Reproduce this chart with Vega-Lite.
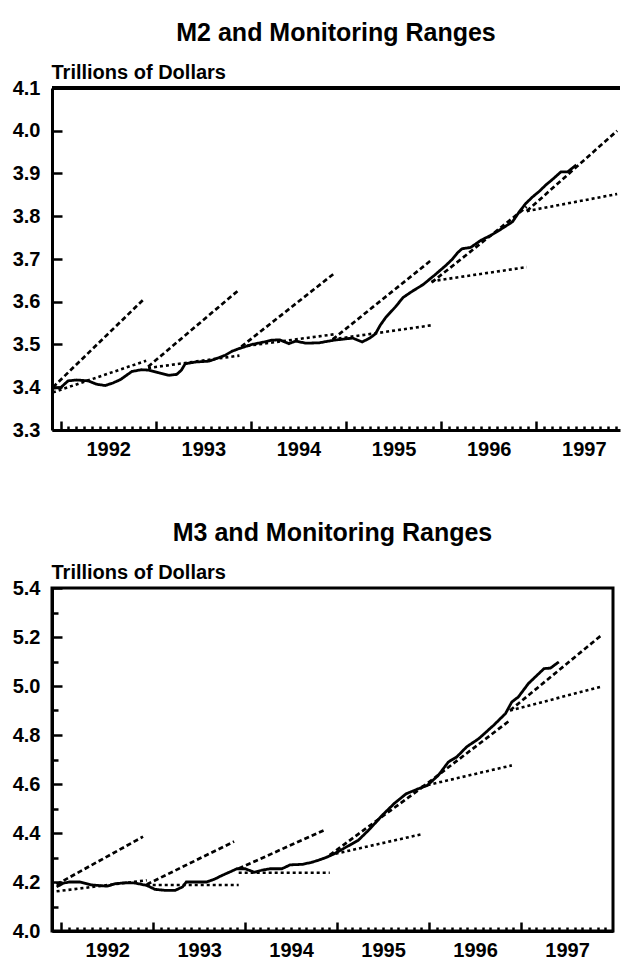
{
  "$schema": "https://vega.github.io/schema/vega-lite/v6.json",
  "padding": {"top": 21, "left": 10, "right": 0, "bottom": 0},
  "spacing": 60,
  "config": {
    "view": {"stroke": null},
    "font": "Liberation Sans",
    "title": {"font": "Liberation Sans", "fontSize": 25, "fontWeight": "bold", "color": "black", "anchor": "middle", "offset": 16},
    "axis": {"grid": false, "domainColor": "black", "domainWidth": 3, "tickColor": "black", "tickWidth": 2.5, "labelFont": "Liberation Sans", "labelFontSize": 20, "labelFontWeight": "bold", "labelColor": "black", "labelOverlap": false, "labelFlush": false, "labelBound": false, "titleFont": "Liberation Sans", "titleFontSize": 20, "titleFontWeight": "bold", "titleColor": "black"}
  },
  "datasets": {
    "series": [
      {"panel": "M2", "series": "actual", "kind": "actual", "t": 1991.92, "v": 3.398},
      {"panel": "M2", "series": "actual", "kind": "actual", "t": 1992.0, "v": 3.399},
      {"panel": "M2", "series": "actual", "kind": "actual", "t": 1992.08, "v": 3.415},
      {"panel": "M2", "series": "actual", "kind": "actual", "t": 1992.17, "v": 3.417},
      {"panel": "M2", "series": "actual", "kind": "actual", "t": 1992.29, "v": 3.415},
      {"panel": "M2", "series": "actual", "kind": "actual", "t": 1992.38, "v": 3.407},
      {"panel": "M2", "series": "actual", "kind": "actual", "t": 1992.47, "v": 3.404},
      {"panel": "M2", "series": "actual", "kind": "actual", "t": 1992.55, "v": 3.41},
      {"panel": "M2", "series": "actual", "kind": "actual", "t": 1992.63, "v": 3.418},
      {"panel": "M2", "series": "actual", "kind": "actual", "t": 1992.75, "v": 3.437},
      {"panel": "M2", "series": "actual", "kind": "actual", "t": 1992.85, "v": 3.441},
      {"panel": "M2", "series": "actual", "kind": "actual", "t": 1992.93, "v": 3.44},
      {"panel": "M2", "series": "actual", "kind": "actual", "t": 1993.03, "v": 3.434},
      {"panel": "M2", "series": "actual", "kind": "actual", "t": 1993.14, "v": 3.428},
      {"panel": "M2", "series": "actual", "kind": "actual", "t": 1993.22, "v": 3.43},
      {"panel": "M2", "series": "actual", "kind": "actual", "t": 1993.27, "v": 3.44},
      {"panel": "M2", "series": "actual", "kind": "actual", "t": 1993.31, "v": 3.455},
      {"panel": "M2", "series": "actual", "kind": "actual", "t": 1993.42, "v": 3.459},
      {"panel": "M2", "series": "actual", "kind": "actual", "t": 1993.56, "v": 3.461},
      {"panel": "M2", "series": "actual", "kind": "actual", "t": 1993.65, "v": 3.468},
      {"panel": "M2", "series": "actual", "kind": "actual", "t": 1993.73, "v": 3.475},
      {"panel": "M2", "series": "actual", "kind": "actual", "t": 1993.8, "v": 3.484},
      {"panel": "M2", "series": "actual", "kind": "actual", "t": 1993.87, "v": 3.49},
      {"panel": "M2", "series": "actual", "kind": "actual", "t": 1994.01, "v": 3.5},
      {"panel": "M2", "series": "actual", "kind": "actual", "t": 1994.12, "v": 3.505},
      {"panel": "M2", "series": "actual", "kind": "actual", "t": 1994.22, "v": 3.51},
      {"panel": "M2", "series": "actual", "kind": "actual", "t": 1994.3, "v": 3.511},
      {"panel": "M2", "series": "actual", "kind": "actual", "t": 1994.4, "v": 3.502},
      {"panel": "M2", "series": "actual", "kind": "actual", "t": 1994.47, "v": 3.508},
      {"panel": "M2", "series": "actual", "kind": "actual", "t": 1994.58, "v": 3.503},
      {"panel": "M2", "series": "actual", "kind": "actual", "t": 1994.72, "v": 3.504},
      {"panel": "M2", "series": "actual", "kind": "actual", "t": 1994.87, "v": 3.51},
      {"panel": "M2", "series": "actual", "kind": "actual", "t": 1995.07, "v": 3.515},
      {"panel": "M2", "series": "actual", "kind": "actual", "t": 1995.17, "v": 3.506},
      {"panel": "M2", "series": "actual", "kind": "actual", "t": 1995.25, "v": 3.515},
      {"panel": "M2", "series": "actual", "kind": "actual", "t": 1995.31, "v": 3.525},
      {"panel": "M2", "series": "actual", "kind": "actual", "t": 1995.36, "v": 3.545},
      {"panel": "M2", "series": "actual", "kind": "actual", "t": 1995.42, "v": 3.564},
      {"panel": "M2", "series": "actual", "kind": "actual", "t": 1995.52, "v": 3.588},
      {"panel": "M2", "series": "actual", "kind": "actual", "t": 1995.6, "v": 3.61},
      {"panel": "M2", "series": "actual", "kind": "actual", "t": 1995.7, "v": 3.625},
      {"panel": "M2", "series": "actual", "kind": "actual", "t": 1995.81, "v": 3.64},
      {"panel": "M2", "series": "actual", "kind": "actual", "t": 1995.93, "v": 3.662},
      {"panel": "M2", "series": "actual", "kind": "actual", "t": 1996.05, "v": 3.685},
      {"panel": "M2", "series": "actual", "kind": "actual", "t": 1996.12, "v": 3.7},
      {"panel": "M2", "series": "actual", "kind": "actual", "t": 1996.17, "v": 3.714},
      {"panel": "M2", "series": "actual", "kind": "actual", "t": 1996.22, "v": 3.724},
      {"panel": "M2", "series": "actual", "kind": "actual", "t": 1996.31, "v": 3.727},
      {"panel": "M2", "series": "actual", "kind": "actual", "t": 1996.42, "v": 3.744},
      {"panel": "M2", "series": "actual", "kind": "actual", "t": 1996.52, "v": 3.755},
      {"panel": "M2", "series": "actual", "kind": "actual", "t": 1996.61, "v": 3.767},
      {"panel": "M2", "series": "actual", "kind": "actual", "t": 1996.75, "v": 3.787},
      {"panel": "M2", "series": "actual", "kind": "actual", "t": 1996.82, "v": 3.81},
      {"panel": "M2", "series": "actual", "kind": "actual", "t": 1996.89, "v": 3.83},
      {"panel": "M2", "series": "actual", "kind": "actual", "t": 1996.96, "v": 3.845},
      {"panel": "M2", "series": "actual", "kind": "actual", "t": 1997.03, "v": 3.858},
      {"panel": "M2", "series": "actual", "kind": "actual", "t": 1997.1, "v": 3.873},
      {"panel": "M2", "series": "actual", "kind": "actual", "t": 1997.18, "v": 3.888},
      {"panel": "M2", "series": "actual", "kind": "actual", "t": 1997.26, "v": 3.904},
      {"panel": "M2", "series": "actual", "kind": "actual", "t": 1997.33, "v": 3.904},
      {"panel": "M2", "series": "actual", "kind": "actual", "t": 1997.42, "v": 3.92},
      {"panel": "M2", "series": "u1992", "kind": "upper", "t": 1991.92, "v": 3.4},
      {"panel": "M2", "series": "u1992", "kind": "upper", "t": 1992.88, "v": 3.607},
      {"panel": "M2", "series": "l1992", "kind": "lower", "t": 1991.92, "v": 3.388},
      {"panel": "M2", "series": "l1992", "kind": "lower", "t": 1992.9, "v": 3.462},
      {"panel": "M2", "series": "u1993", "kind": "upper", "t": 1992.92, "v": 3.448},
      {"panel": "M2", "series": "u1993", "kind": "upper", "t": 1993.86, "v": 3.625},
      {"panel": "M2", "series": "l1993", "kind": "lower", "t": 1992.92, "v": 3.445},
      {"panel": "M2", "series": "l1993", "kind": "lower", "t": 1993.88, "v": 3.474},
      {"panel": "M2", "series": "u1994", "kind": "upper", "t": 1993.9, "v": 3.495},
      {"panel": "M2", "series": "u1994", "kind": "upper", "t": 1994.88, "v": 3.667},
      {"panel": "M2", "series": "l1994", "kind": "lower", "t": 1993.9, "v": 3.495},
      {"panel": "M2", "series": "l1994", "kind": "lower", "t": 1994.88, "v": 3.524},
      {"panel": "M2", "series": "u1995", "kind": "upper", "t": 1994.86, "v": 3.512},
      {"panel": "M2", "series": "u1995", "kind": "upper", "t": 1995.9, "v": 3.698},
      {"panel": "M2", "series": "l1995", "kind": "lower", "t": 1994.86, "v": 3.512},
      {"panel": "M2", "series": "l1995", "kind": "lower", "t": 1995.9, "v": 3.545},
      {"panel": "M2", "series": "u1996", "kind": "upper", "t": 1995.9, "v": 3.645},
      {"panel": "M2", "series": "u1996", "kind": "upper", "t": 1996.9, "v": 3.822},
      {"panel": "M2", "series": "l1996", "kind": "lower", "t": 1995.9, "v": 3.648},
      {"panel": "M2", "series": "l1996", "kind": "lower", "t": 1996.9, "v": 3.681},
      {"panel": "M2", "series": "u1997", "kind": "upper", "t": 1996.9, "v": 3.812},
      {"panel": "M2", "series": "u1997", "kind": "upper", "t": 1997.85, "v": 4.0},
      {"panel": "M2", "series": "l1997", "kind": "lower", "t": 1996.9, "v": 3.812},
      {"panel": "M2", "series": "l1997", "kind": "lower", "t": 1997.85, "v": 3.852},
      {"panel": "M3", "series": "actual", "kind": "actual", "t": 1991.95, "v": 4.18},
      {"panel": "M3", "series": "actual", "kind": "actual", "t": 1992.02, "v": 4.195},
      {"panel": "M3", "series": "actual", "kind": "actual", "t": 1992.09, "v": 4.2},
      {"panel": "M3", "series": "actual", "kind": "actual", "t": 1992.2, "v": 4.2},
      {"panel": "M3", "series": "actual", "kind": "actual", "t": 1992.33, "v": 4.188},
      {"panel": "M3", "series": "actual", "kind": "actual", "t": 1992.5, "v": 4.183},
      {"panel": "M3", "series": "actual", "kind": "actual", "t": 1992.59, "v": 4.193},
      {"panel": "M3", "series": "actual", "kind": "actual", "t": 1992.7, "v": 4.197},
      {"panel": "M3", "series": "actual", "kind": "actual", "t": 1992.8, "v": 4.196},
      {"panel": "M3", "series": "actual", "kind": "actual", "t": 1992.93, "v": 4.186},
      {"panel": "M3", "series": "actual", "kind": "actual", "t": 1993.02, "v": 4.17},
      {"panel": "M3", "series": "actual", "kind": "actual", "t": 1993.13, "v": 4.166},
      {"panel": "M3", "series": "actual", "kind": "actual", "t": 1993.24, "v": 4.166},
      {"panel": "M3", "series": "actual", "kind": "actual", "t": 1993.32, "v": 4.18},
      {"panel": "M3", "series": "actual", "kind": "actual", "t": 1993.36, "v": 4.2},
      {"panel": "M3", "series": "actual", "kind": "actual", "t": 1993.58, "v": 4.2},
      {"panel": "M3", "series": "actual", "kind": "actual", "t": 1993.67, "v": 4.212},
      {"panel": "M3", "series": "actual", "kind": "actual", "t": 1993.75, "v": 4.227},
      {"panel": "M3", "series": "actual", "kind": "actual", "t": 1993.84, "v": 4.242},
      {"panel": "M3", "series": "actual", "kind": "actual", "t": 1993.91, "v": 4.254},
      {"panel": "M3", "series": "actual", "kind": "actual", "t": 1994.0, "v": 4.254},
      {"panel": "M3", "series": "actual", "kind": "actual", "t": 1994.1, "v": 4.24},
      {"panel": "M3", "series": "actual", "kind": "actual", "t": 1994.18, "v": 4.248},
      {"panel": "M3", "series": "actual", "kind": "actual", "t": 1994.27, "v": 4.254},
      {"panel": "M3", "series": "actual", "kind": "actual", "t": 1994.4, "v": 4.254},
      {"panel": "M3", "series": "actual", "kind": "actual", "t": 1994.49, "v": 4.27},
      {"panel": "M3", "series": "actual", "kind": "actual", "t": 1994.62, "v": 4.272},
      {"panel": "M3", "series": "actual", "kind": "actual", "t": 1994.72, "v": 4.28},
      {"panel": "M3", "series": "actual", "kind": "actual", "t": 1994.79, "v": 4.288},
      {"panel": "M3", "series": "actual", "kind": "actual", "t": 1994.88, "v": 4.3},
      {"panel": "M3", "series": "actual", "kind": "actual", "t": 1994.97, "v": 4.315},
      {"panel": "M3", "series": "actual", "kind": "actual", "t": 1995.1, "v": 4.343},
      {"panel": "M3", "series": "actual", "kind": "actual", "t": 1995.23, "v": 4.37},
      {"panel": "M3", "series": "actual", "kind": "actual", "t": 1995.36, "v": 4.418},
      {"panel": "M3", "series": "actual", "kind": "actual", "t": 1995.49, "v": 4.472},
      {"panel": "M3", "series": "actual", "kind": "actual", "t": 1995.62, "v": 4.52},
      {"panel": "M3", "series": "actual", "kind": "actual", "t": 1995.75, "v": 4.56},
      {"panel": "M3", "series": "actual", "kind": "actual", "t": 1995.88, "v": 4.58},
      {"panel": "M3", "series": "actual", "kind": "actual", "t": 1995.98, "v": 4.594},
      {"panel": "M3", "series": "actual", "kind": "actual", "t": 1996.1, "v": 4.635},
      {"panel": "M3", "series": "actual", "kind": "actual", "t": 1996.21, "v": 4.69},
      {"panel": "M3", "series": "actual", "kind": "actual", "t": 1996.3, "v": 4.71},
      {"panel": "M3", "series": "actual", "kind": "actual", "t": 1996.41, "v": 4.752},
      {"panel": "M3", "series": "actual", "kind": "actual", "t": 1996.54, "v": 4.785},
      {"panel": "M3", "series": "actual", "kind": "actual", "t": 1996.7, "v": 4.839},
      {"panel": "M3", "series": "actual", "kind": "actual", "t": 1996.83, "v": 4.887},
      {"panel": "M3", "series": "actual", "kind": "actual", "t": 1996.9, "v": 4.935},
      {"panel": "M3", "series": "actual", "kind": "actual", "t": 1996.97, "v": 4.955},
      {"panel": "M3", "series": "actual", "kind": "actual", "t": 1997.08, "v": 5.01},
      {"panel": "M3", "series": "actual", "kind": "actual", "t": 1997.25, "v": 5.071},
      {"panel": "M3", "series": "actual", "kind": "actual", "t": 1997.32, "v": 5.073},
      {"panel": "M3", "series": "actual", "kind": "actual", "t": 1997.41, "v": 5.098},
      {"panel": "M3", "series": "u1992", "kind": "upper", "t": 1991.95, "v": 4.19},
      {"panel": "M3", "series": "u1992", "kind": "upper", "t": 1992.89, "v": 4.385},
      {"panel": "M3", "series": "l1992", "kind": "lower", "t": 1991.95, "v": 4.162},
      {"panel": "M3", "series": "l1992", "kind": "lower", "t": 1992.93, "v": 4.207},
      {"panel": "M3", "series": "u1993", "kind": "upper", "t": 1992.93, "v": 4.19},
      {"panel": "M3", "series": "u1993", "kind": "upper", "t": 1993.88, "v": 4.365},
      {"panel": "M3", "series": "l1993", "kind": "lower", "t": 1992.93, "v": 4.188},
      {"panel": "M3", "series": "l1993", "kind": "lower", "t": 1993.93, "v": 4.188},
      {"panel": "M3", "series": "u1994", "kind": "upper", "t": 1993.93, "v": 4.255},
      {"panel": "M3", "series": "u1994", "kind": "upper", "t": 1994.88, "v": 4.415},
      {"panel": "M3", "series": "l1994", "kind": "lower", "t": 1993.93, "v": 4.238},
      {"panel": "M3", "series": "l1994", "kind": "lower", "t": 1994.92, "v": 4.238},
      {"panel": "M3", "series": "u1995", "kind": "upper", "t": 1994.92, "v": 4.31},
      {"panel": "M3", "series": "u1995", "kind": "upper", "t": 1995.92, "v": 4.585},
      {"panel": "M3", "series": "l1995", "kind": "lower", "t": 1994.92, "v": 4.31},
      {"panel": "M3", "series": "l1995", "kind": "lower", "t": 1995.92, "v": 4.395},
      {"panel": "M3", "series": "u1996", "kind": "upper", "t": 1995.92, "v": 4.585},
      {"panel": "M3", "series": "u1996", "kind": "upper", "t": 1996.88, "v": 4.86},
      {"panel": "M3", "series": "l1996", "kind": "lower", "t": 1995.92, "v": 4.59},
      {"panel": "M3", "series": "l1996", "kind": "lower", "t": 1996.9, "v": 4.676},
      {"panel": "M3", "series": "u1997", "kind": "upper", "t": 1996.88, "v": 4.9},
      {"panel": "M3", "series": "u1997", "kind": "upper", "t": 1997.88, "v": 5.209},
      {"panel": "M3", "series": "l1997", "kind": "lower", "t": 1996.88, "v": 4.9},
      {"panel": "M3", "series": "l1997", "kind": "lower", "t": 1997.86, "v": 4.996}
    ]
  },
  "vconcat": [
    {
      "title": "M2 and Monitoring Ranges",
      "width": 568,
      "height": 342,
      "data": {"name": "series"},
      "transform": [{"filter": "datum.panel === 'M2'"}],
      "layer": [
        {
          "mark": {"type": "line", "color": "black", "clip": true},
          "encoding": {
            "x": {"field": "t", "type": "quantitative", "scale": {"domain": [1991.91, 1997.88], "nice": false, "zero": false},
              "axis": {"title": null, "values": [1992, 1992.0833, 1992.1667, 1992.25, 1992.3333, 1992.4167, 1992.5, 1992.5833, 1992.6667, 1992.75, 1992.8333, 1992.9167, 1993, 1993.0833, 1993.1667, 1993.25, 1993.3333, 1993.4167, 1993.5, 1993.5833, 1993.6667, 1993.75, 1993.8333, 1993.9167, 1994, 1994.0833, 1994.1667, 1994.25, 1994.3333, 1994.4167, 1994.5, 1994.5833, 1994.6667, 1994.75, 1994.8333, 1994.9167, 1995, 1995.0833, 1995.1667, 1995.25, 1995.3333, 1995.4167, 1995.5, 1995.5833, 1995.6667, 1995.75, 1995.8333, 1995.9167, 1996, 1996.0833, 1996.1667, 1996.25, 1996.3333, 1996.4167, 1996.5, 1996.5833, 1996.6667, 1996.75, 1996.8333, 1996.9167, 1997, 1997.0833, 1997.1667, 1997.25, 1997.3333, 1997.4167, 1997.5, 1997.5833, 1997.6667, 1997.75, 1997.8333],
                "tickSize": {"condition": {"test": "datum.value % 1 < 0.01", "value": -9}, "value": -4},
                "labelExpr": "abs(datum.value % 1 - 0.5) < 0.01 ? '' + floor(datum.value) : ''",
                "labelPadding": 13}},
            "y": {"field": "v", "type": "quantitative", "scale": {"domain": [3.3, 4.1], "nice": false, "zero": false},
              "axis": {"title": "Trillions of Dollars", "titleAngle": 0, "titleAlign": "left", "titleBaseline": "alphabetic", "titleX": -1, "titleY": -10,
                "values": [3.3, 3.35, 3.4, 3.45, 3.5, 3.55, 3.6, 3.65, 3.7, 3.75, 3.8, 3.85, 3.9, 3.95, 4.0, 4.05, 4.1],
                "tickSize": {"condition": {"test": "abs(datum.value*10 - round(datum.value*10)) < 0.01", "value": -10}, "value": -6},
                "labelExpr": "abs(datum.value*10 - round(datum.value*10)) < 0.01 ? format(datum.value, '.1f') : ''",
                "labelPadding": 22}},
            "detail": {"field": "series"},
            "strokeDash": {"field": "kind", "type": "nominal", "scale": {"domain": ["actual", "upper", "lower"], "range": [[1, 0], [5, 3], [3, 3]]}, "legend": null},
            "strokeWidth": {"field": "kind", "type": "nominal", "scale": {"domain": ["actual", "upper", "lower"], "range": [2.8, 2.6, 3]}, "legend": null}
          }
        },
        {
          "mark": {"type": "rule", "color": "black", "strokeWidth": 3},
          "encoding": {"y": {"datum": 4.1}}
        }
      ]
    },
    {
      "title": "M3 and Monitoring Ranges",
      "width": 561,
      "height": 343,
      "view": {"stroke": "black", "strokeWidth": 3},
      "data": {"name": "series"},
      "transform": [{"filter": "datum.panel === 'M3'"}],
      "layer": [
        {
          "mark": {"type": "line", "color": "black", "clip": true},
          "encoding": {
            "x": {"field": "t", "type": "quantitative", "scale": {"domain": [1991.9, 1998.0], "nice": false, "zero": false},
              "axis": {"title": null, "values": [1992, 1992.0833, 1992.1667, 1992.25, 1992.3333, 1992.4167, 1992.5, 1992.5833, 1992.6667, 1992.75, 1992.8333, 1992.9167, 1993, 1993.0833, 1993.1667, 1993.25, 1993.3333, 1993.4167, 1993.5, 1993.5833, 1993.6667, 1993.75, 1993.8333, 1993.9167, 1994, 1994.0833, 1994.1667, 1994.25, 1994.3333, 1994.4167, 1994.5, 1994.5833, 1994.6667, 1994.75, 1994.8333, 1994.9167, 1995, 1995.0833, 1995.1667, 1995.25, 1995.3333, 1995.4167, 1995.5, 1995.5833, 1995.6667, 1995.75, 1995.8333, 1995.9167, 1996, 1996.0833, 1996.1667, 1996.25, 1996.3333, 1996.4167, 1996.5, 1996.5833, 1996.6667, 1996.75, 1996.8333, 1996.9167, 1997, 1997.0833, 1997.1667, 1997.25, 1997.3333, 1997.4167, 1997.5, 1997.5833, 1997.6667, 1997.75, 1997.8333, 1997.9167],
                "tickSize": {"condition": {"test": "datum.value % 1 < 0.01", "value": -9}, "value": -4},
                "labelExpr": "abs(datum.value % 1 - 0.5) < 0.01 ? '' + floor(datum.value) : ''",
                "labelPadding": 13}},
            "y": {"field": "v", "type": "quantitative", "scale": {"domain": [4.0, 5.4], "nice": false, "zero": false},
              "axis": {"title": "Trillions of Dollars", "titleAngle": 0, "titleAlign": "left", "titleBaseline": "alphabetic", "titleX": -1, "titleY": -10,
                "values": [4.0, 4.1, 4.2, 4.3, 4.4, 4.5, 4.6, 4.7, 4.8, 4.9, 5.0, 5.1, 5.2, 5.3, 5.4],
                "tickSize": {"condition": {"test": "abs(datum.value*5 - round(datum.value*5)) < 0.01", "value": -10}, "value": -6},
                "labelExpr": "abs(datum.value*5 - round(datum.value*5)) < 0.01 ? format(datum.value, '.1f') : ''",
                "labelPadding": 22}},
            "detail": {"field": "series"},
            "strokeDash": {"field": "kind", "type": "nominal", "scale": {"domain": ["actual", "upper", "lower"], "range": [[1, 0], [5, 3], [3, 3]]}, "legend": null},
            "strokeWidth": {"field": "kind", "type": "nominal", "scale": {"domain": ["actual", "upper", "lower"], "range": [2.8, 2.6, 3]}, "legend": null}
          }
        }
      ]
    }
  ]
}
